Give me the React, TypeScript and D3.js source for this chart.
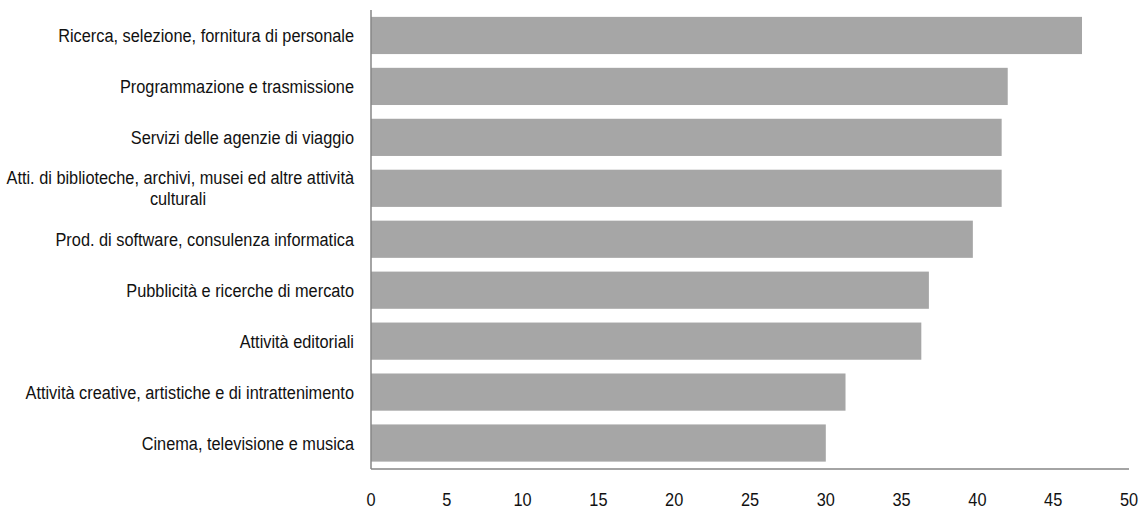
import React from "react";
import * as d3 from "d3";

const categories: string[][] = [
  ["Ricerca, selezione, fornitura di personale"],
  ["Programmazione e trasmissione"],
  ["Servizi delle agenzie di viaggio"],
  ["Atti. di biblioteche, archivi, musei ed altre attività", "culturali"],
  ["Prod. di software, consulenza informatica"],
  ["Pubblicità e ricerche di mercato"],
  ["Attività editoriali"],
  ["Attività creative, artistiche e di intrattenimento"],
  ["Cinema, televisione e musica"],
];

const values: number[] = [46.9, 42.0, 41.6, 41.6, 39.7, 36.8, 36.3, 31.3, 30.0];

const xTicks: number[] = [0, 5, 10, 15, 20, 25, 30, 35, 40, 45, 50];

const W = 1142;
const H = 509;
const margin = { top: 10, right: 13, bottom: 40, left: 371 };
const FONT = "'Liberation Sans', Arial, sans-serif";
const FS = 19;
const SX = 0.86; // horizontal squeeze for a narrow face

function NarrowText({
  x,
  y,
  anchor,
  children,
}: {
  x: number;
  y: number;
  anchor: "start" | "middle" | "end";
  children: React.ReactNode;
}) {
  return (
    <g transform={`translate(${x},${y}) scale(${SX},1)`}>
      <text
        x={0}
        y={0}
        dy="0.35em"
        textAnchor={anchor}
        fontSize={FS}
        fill="#111"
      >
        {children}
      </text>
    </g>
  );
}

export default function App() {
  const x = d3
    .scaleLinear()
    .domain([0, 50])
    .range([margin.left, W - margin.right]);
  const y = d3
    .scaleBand<number>()
    .domain(d3.range(categories.length))
    .range([margin.top, H - margin.bottom - 0.5])
    .paddingInner(0.27)
    .paddingOuter(0.135);

  const axisY = H - margin.bottom;
  const lineH = 21;

  return (
    <svg
      width={W}
      height={H}
      style={{ position: "absolute", left: 0, top: 0, background: "#fff" }}
      fontFamily={FONT}
    >
      {values.map((v, i) => (
        <rect
          key={i}
          x={x(0)}
          y={y(i)!}
          width={x(v) - x(0)}
          height={y.bandwidth()}
          fill="#a6a6a6"
        />
      ))}

      {/* category labels, right-aligned against the value axis */}
      {categories.map((lines, i) => {
        const cy = y(i)! + y.bandwidth() / 2;
        const y0 = cy - ((lines.length - 1) * lineH) / 2;
        const multi = lines.length > 1;
        return lines.map((t, j) => (
          <NarrowText
            key={`${i}-${j}`}
            x={multi && j > 0 ? 178 : 354}
            y={y0 + j * lineH}
            anchor={multi && j > 0 ? "middle" : "end"}
          >
            {t}
          </NarrowText>
        ));
      })}

      {/* axes */}
      <line x1={x(0)} x2={x(0)} y1={margin.top} y2={axisY} stroke="#868686" strokeWidth={1.5} />
      <line x1={x(0)} x2={x(50)} y1={axisY} y2={axisY} stroke="#868686" strokeWidth={1.5} />

      {xTicks.map((t) => (
        <NarrowText key={t} x={x(t)} y={499} anchor="middle">
          {t}
        </NarrowText>
      ))}
    </svg>
  );
}
